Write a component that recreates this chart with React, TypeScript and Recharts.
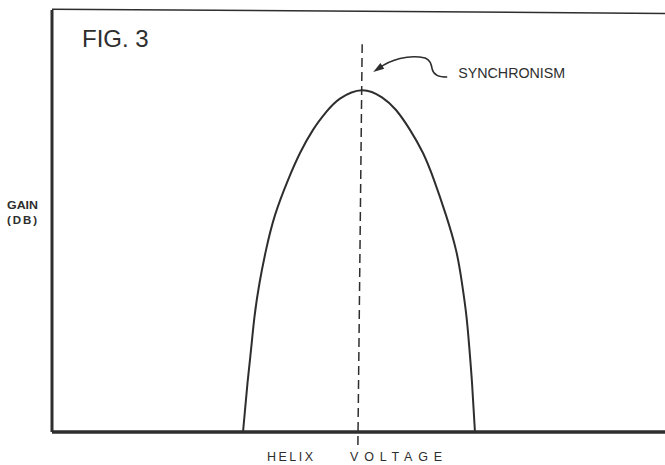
import React from "react";
import {
  ComposedChart,
  Line,
  XAxis,
  YAxis,
  ReferenceLine,
  ReferenceDot,
} from "recharts";

// helix voltage (relative units) vs. gain (relative dB)
const voltage = [
  31.16, 31.89, 32.46, 33.03, 33.85, 34.91, 36.38, 38.5, 40.46, 42.58, 44.78,
  46.98, 50.57, 53.83, 56.12, 58.4, 60.52, 62.32, 64.27, 65.91, 66.88, 67.62,
  68.11, 68.52, 69.0,
];
const gain = [
  0, 11.6, 19.4, 27.3, 35.3, 43.1, 51.4, 59.7, 66.1, 71.6, 75.9, 79.0, 81.0,
  79.3, 76.3, 71.6, 66.1, 59.7, 51.4, 43.1, 35.3, 27.3, 19.4, 11.6, 0,
];

// synchronism marker (dashed), slightly leaning like the drawing
const syncLine = [
  { x: 49.9, y: -3.1 },
  { x: 50.6, y: 91.9 },
];
const arrowTip = { x: 52.4, y: 85.3 };

const data = voltage.map((v, i) => ({ v, g: gain[i] }));

const ink = "#2e2e2e";
const font = "'Liberation Sans', Arial, sans-serif";

// arrow + label, drawn relative to the tip position given by the scales
const SyncArrow = (props: any) => {
  const { cx, cy } = props;
  if (cx == null || cy == null) return null;
  return (
    <g>
      <path
        d={`M ${cx + 6} ${cy - 4} C ${cx + 17} ${cy - 12}, ${cx + 35} ${cy - 18}, ${cx + 52} ${cy - 14} C ${cx + 57} ${cy - 12}, ${cx + 58} ${cy - 8}, ${cx + 59} ${cy - 3} C ${cx + 60} ${cy + 2}, ${cx + 64} ${cy + 5}, ${cx + 74} ${cy + 5}`}
        fill="none"
        stroke={ink}
        strokeWidth={1.6}
      />
      <path
        d={`M ${cx} ${cy} L ${cx + 7.2} ${cy - 9} L ${cx + 11} ${cy - 3.2} Z`}
        fill={ink}
      />
      <text
        x={cx + 85}
        y={cy + 6}
        fontFamily={font}
        fontSize={14.5}
        fill={ink}
        textLength={107}
        lengthAdjust="spacingAndGlyphs"
      >
        SYNCHRONISM
      </text>
    </g>
  );
};

const App: React.FC = () => {
  return (
    <div style={{ position: "absolute", left: 0, top: 0, background: "#fff" }}>
      <ComposedChart
        width={665}
        height={465}
        data={data}
        margin={{ top: 10, right: 0, bottom: 33, left: 52 }}
      >
        <XAxis dataKey="v" type="number" domain={[0, 100]} hide />
        <YAxis type="number" domain={[0, 100]} hide />

        {/* frame */}
        <ReferenceLine
          segment={[
            { x: 0, y: 100.2 },
            { x: 100, y: 99.2 },
          ]}
          stroke={ink}
          strokeWidth={1.5}
          ifOverflow="visible"
        />
        <ReferenceLine x={0} stroke={ink} strokeWidth={3} ifOverflow="visible" />
        <ReferenceLine y={0} stroke={ink} strokeWidth={3.5} ifOverflow="visible" />

        <ReferenceLine
          segment={syncLine}
          stroke={ink}
          strokeWidth={1.5}
          strokeDasharray="9 5"
          ifOverflow="visible"
        />

        <Line
          dataKey="g"
          type="natural"
          stroke={ink}
          strokeWidth={2}
          dot={false}
          isAnimationActive={false}
        />

        <ReferenceDot
          x={arrowTip.x}
          y={arrowTip.y}
          ifOverflow="visible"
          shape={SyncArrow}
        />

        <text x={82} y={47} fontFamily={font} fontSize={24} fill={ink}>
          FIG. 3
        </text>
        <text
          x={7}
          y={209}
          fontFamily={font}
          fontSize={11.5}
          fontWeight={600}
          fill={ink}
          textLength={31}
          lengthAdjust="spacingAndGlyphs"
        >
          GAIN
        </text>
        <text
          x={7}
          y={224}
          fontFamily={font}
          fontSize={11.5}
          fontWeight={600}
          fill={ink}
          textLength={30}
          lengthAdjust="spacing"
        >
          (DB)
        </text>
        <text
          x={267}
          y={461}
          fontFamily={font}
          fontSize={12.5}
          fill={ink}
          textLength={46}
          lengthAdjust="spacing"
        >
          HELIX
        </text>
        <text
          x={350}
          y={461}
          fontFamily={font}
          fontSize={12.5}
          fill={ink}
          textLength={92}
          lengthAdjust="spacing"
        >
          VOLTAGE
        </text>
      </ComposedChart>
    </div>
  );
};

export default App;
